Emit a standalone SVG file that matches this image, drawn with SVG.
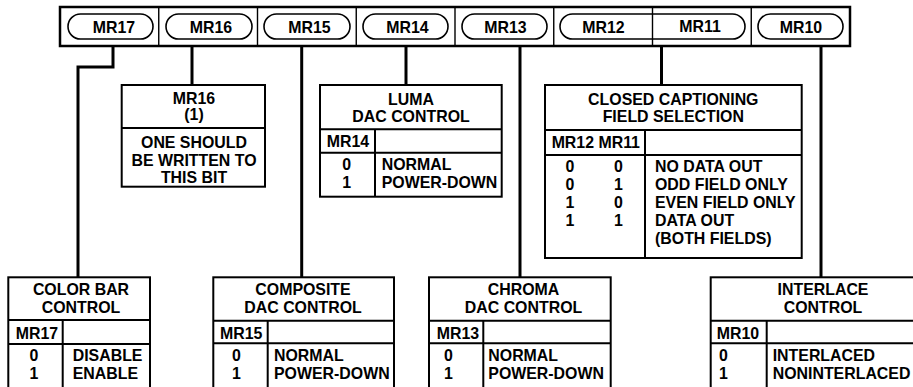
<svg xmlns="http://www.w3.org/2000/svg" width="913" height="387" viewBox="0 0 913 387">
<style>
text{font-family:"Liberation Sans",Arial,sans-serif;font-weight:bold;font-size:15.9px;fill:#000}
.c{text-anchor:middle}
.box{fill:#fff;stroke:#000;stroke-width:2}
.ln{stroke:#000;stroke-width:2;fill:none}
.pill{fill:#fff;stroke:#000;stroke-width:1.6}
.div{stroke:#000;stroke-width:1.4}
.conn{stroke:#000;stroke-width:3;fill:none;stroke-linejoin:miter}
</style>
<rect width="913" height="387" fill="#fff"/>
<g id="register">
<rect x="60" y="7" width="790" height="39" fill="#fff" stroke="#000" stroke-width="2.5"/>
<rect class="pill" x="68" y="14" width="85" height="25" rx="12.5"/>
<rect class="pill" x="166" y="14" width="86" height="25" rx="12.5"/>
<rect class="pill" x="264" y="14" width="86" height="25" rx="12.5"/>
<rect class="pill" x="363" y="14" width="85" height="25" rx="12.5"/>
<rect class="pill" x="462" y="14" width="85" height="25" rx="12.5"/>
<rect class="pill" x="560" y="14" width="185" height="25" rx="12.5"/>
<rect class="pill" x="758" y="14" width="85" height="25" rx="12.5"/>
<path class="div" d="M158.75,7V46M257.5,7V46M356.25,7V46M455,7V46M553.75,7V46M652.5,7V46M751.25,7V46"/>
<text class="c" x="114" y="33.3">MR17</text>
<text class="c" x="211" y="33.3">MR16</text>
<text class="c" x="309.5" y="33.3">MR15</text>
<text class="c" x="407.5" y="33.3">MR14</text>
<text class="c" x="505.5" y="33.3">MR13</text>
<text class="c" x="603.5" y="33.3">MR12</text>
<text class="c" x="700" y="31.7">MR11</text>
<text class="c" x="801" y="33.3">MR10</text>
</g>
<g id="connectors">
<path class="conn" d="M113,46V67H78V277.3"/>
<path class="conn" d="M192,46V85"/>
<path class="conn" d="M301.7,46V277.3"/>
<path class="conn" d="M406,46V85"/>
<path class="conn" d="M520,46V277.3"/>
<path class="conn" d="M661.5,46V85"/>
<path class="conn" d="M821,46V277.3"/>
</g>
<g id="mr16">
<rect class="box" x="121.7" y="85" width="143.3" height="101.7"/>
<path class="ln" d="M121.7,128H265"/>
<text class="c" x="194" y="104">MR16</text>
<text class="c" x="194" y="119.5">(1)</text>
<text class="c" x="194" y="148.3">ONE SHOULD</text>
<text class="c" x="194" y="166">BE WRITTEN TO</text>
<text class="c" x="194" y="183.3">THIS BIT</text>
</g>
<g id="luma">
<rect class="box" x="320" y="85" width="181.7" height="111.7"/>
<path class="ln" d="M320,129.3H501.7M320,152.7H501.7M375,129.3V196.7"/>
<text class="c" x="411" y="105">LUMA</text>
<text class="c" x="411" y="121.7">DAC CONTROL</text>
<text class="c" x="348" y="146.7">MR14</text>
<text class="c" x="346.7" y="170">0</text>
<text class="c" x="346.7" y="188.3">1</text>
<text x="381.7" y="170">NORMAL</text>
<text x="381.7" y="188.3">POWER-DOWN</text>
</g>
<g id="closed-captioning">
<rect class="box" x="545" y="85" width="256.7" height="173"/>
<path class="ln" d="M545,130H801.7M545,155H801.7M645,130V258"/>
<text class="c" x="673.3" y="105">CLOSED CAPTIONING</text>
<text class="c" x="673.3" y="121.7">FIELD SELECTION</text>
<text class="c" x="595.8" y="148.3">MR12 MR11</text>
<text class="c" x="570" y="172">0</text><text class="c" x="618.3" y="172">0</text>
<text class="c" x="570" y="190">0</text><text class="c" x="618.3" y="190">1</text>
<text class="c" x="570" y="208">1</text><text class="c" x="618.3" y="208">0</text>
<text class="c" x="570" y="226">1</text><text class="c" x="618.3" y="226">1</text>
<text x="655" y="172">NO DATA OUT</text>
<text x="655" y="190">ODD FIELD ONLY</text>
<text x="655" y="208">EVEN FIELD ONLY</text>
<text x="655" y="226">DATA OUT</text>
<text x="655" y="244">(BOTH FIELDS)</text>
</g>
<g id="color-bar">
<rect class="box" x="8.3" y="277.3" width="141.7" height="130"/>
<path class="ln" d="M8.3,320H150M8.3,344H150M62.7,320V400"/>
<text class="c" x="81" y="295.3">COLOR BAR</text>
<text class="c" x="81" y="313">CONTROL</text>
<text class="c" x="37" y="339.3">MR17</text>
<text class="c" x="34" y="360.5">0</text>
<text class="c" x="34" y="378.5">1</text>
<text x="72.7" y="360.5">DISABLE</text>
<text x="72.7" y="378.5">ENABLE</text>
</g>
<g id="composite">
<rect class="box" x="213.3" y="277.3" width="180.7" height="130"/>
<path class="ln" d="M213.3,320.7H394M213.3,343.3H394M267.7,320.7V400"/>
<text class="c" x="303" y="295.3">COMPOSITE</text>
<text class="c" x="303" y="313">DAC CONTROL</text>
<text class="c" x="241.2" y="339.3">MR15</text>
<text class="c" x="236.5" y="360.5">0</text>
<text class="c" x="236.5" y="378.5">1</text>
<text x="274" y="360.5">NORMAL</text>
<text x="274" y="378.5">POWER-DOWN</text>
</g>
<g id="chroma">
<rect class="box" x="429" y="277.3" width="181.7" height="130"/>
<path class="ln" d="M429,320.7H610.7M429,343.3H610.7M483.3,320.7V400"/>
<text class="c" x="523.5" y="295.3">CHROMA</text>
<text class="c" x="523.5" y="313">DAC CONTROL</text>
<text class="c" x="458" y="339.3">MR13</text>
<text class="c" x="448.3" y="360.5">0</text>
<text class="c" x="448.3" y="378.5">1</text>
<text x="488.3" y="360.5">NORMAL</text>
<text x="488.3" y="378.5">POWER-DOWN</text>
</g>
<g id="interlace">
<rect class="box" x="710.7" y="277.3" width="230" height="130"/>
<path class="ln" d="M710.7,320.7H940.7M710.7,343.3H940.7M766.7,320.7V400"/>
<text class="c" x="823" y="295.3">INTERLACE</text>
<text class="c" x="823" y="313">CONTROL</text>
<text class="c" x="738" y="339.3">MR10</text>
<text class="c" x="723.3" y="360.5">0</text>
<text class="c" x="723.3" y="378.5">1</text>
<text x="772.7" y="360.5">INTERLACED</text>
<text x="772.7" y="378.5">NONINTERLACED</text>
</g>
</svg>
